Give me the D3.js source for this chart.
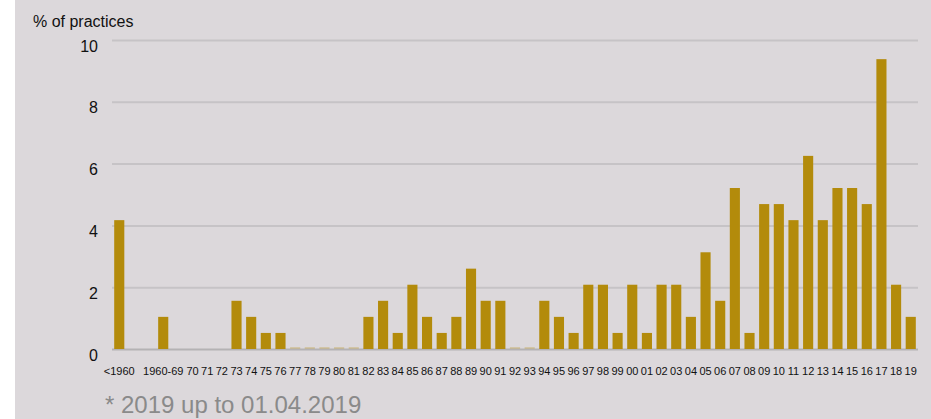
<!DOCTYPE html>
<html>
<head>
<meta charset="utf-8">
<title>Practices by year</title>
<script src="https://d3js.org/d3.v7.min.js"></script>
<style>
  body { margin: 0; background: #fff; }
  text { font-family: "Liberation Sans", Arial, sans-serif; }
</style>
</head>
<body>
<svg width="931" height="419" id="mainsvg"></svg>
<script>
// year slots ("" = empty slot on the axis)
const categories = ['<1960', '', '', '1960-69', '', '70', '71', '72', '73', '74', '75', '76', '77', '78', '79',
  '80', '81', '82', '83', '84', '85', '86', '87', '88', '89', '90', '91', '92', '93', '94', '95', '96', '97',
  '98', '99', '00', '01', '02', '03', '04', '05', '06', '07', '08', '09', '10', '11', '12', '13', '14', '15',
  '16', '17', '18', '19'];
// % of practices (null = no bar)
const values = [4.17, null, null, 1.04, null, null, null, null, 1.56, 1.04, 0.52, 0.52, 0, 0, 0,
  0, 0, 1.04, 1.56, 0.52, 2.08, 1.04, 0.52, 1.04, 2.60, 1.56, 1.56, 0, 0, 1.56, 1.04, 0.52, 2.08,
  2.08, 0.52, 2.08, 0.52, 2.08, 2.08, 1.04, 3.13, 1.56, 5.21, 0.52, 4.69, 4.69, 4.17, 6.25, 4.17, 5.21, 5.21,
  4.69, 9.38, 2.08, 1.04];
const yTicks = [0, 2, 4, 6, 8, 10];

const svg = d3.select('#mainsvg');
const width = +svg.attr('width');
const height = +svg.attr('height');

svg.append('rect').attr('x', 15).attr('y', 0)
  .attr('width', width - 15).attr('height', height)
  .attr('fill', '#dcd8db');

const xScale = d3.scaleBand()
  .domain(d3.range(categories.length))
  .range([112, 918])
  .paddingInner(0.31)
  .paddingOuter(0.15);

const yScale = d3.scaleLinear()
  .domain([0, 10])
  .range([349, 40]);

// gridlines + y labels
const yAxis = d3.axisLeft(yScale).tickValues(yTicks).tickSize(-(918 - 112)).tickSizeOuter(0);
const gy = svg.append('g').attr('transform', 'translate(112,0)').call(yAxis);
gy.select('.domain').remove();
gy.selectAll('.tick line')
  .attr('stroke', d => d === 0 ? '#b4b2b4' : '#c6c3c6')
  .attr('stroke-width', 2);
gy.selectAll('.tick text')
  .attr('x', -14)
  .attr('dy', 11)
  .attr('font-size', '16px')
  .attr('fill', '#111')
  .style('font-family', '"Liberation Sans", Arial, sans-serif');

// x labels
const xAxis = d3.axisBottom(xScale).tickFormat(i => categories[i]).tickSize(0);
const gx = svg.append('g').attr('transform', 'translate(0,349)').call(xAxis);
gx.select('.domain').remove();
gx.selectAll('.tick text')
  .attr('y', 26)
  .attr('dy', 0)
  .attr('font-size', '11px')
  .attr('fill', '#111')
  .style('font-family', '"Liberation Sans", Arial, sans-serif');

// bars
const data = values.map((v, i) => ({i: i, v: v})).filter(d => d.v !== null);
svg.append('g').selectAll('rect')
  .data(data)
  .join('rect')
  .attr('x', d => xScale(d.i))
  .attr('width', xScale.bandwidth())
  .attr('y', d => d.v > 0 ? yScale(d.v) : yScale(0) - 2)
  .attr('height', d => d.v > 0 ? yScale(0) - yScale(d.v) : 2)
  .attr('fill', '#b38b0b')
  .attr('opacity', d => d.v > 0 ? 1 : 0.25);

svg.append('text').text('% of practices')
  .attr('x', 33).attr('y', 27)
  .attr('font-size', '16px').attr('fill', '#111');

svg.append('text').text('* 2019 up to 01.04.2019')
  .attr('x', 105).attr('y', 413)
  .attr('font-size', '24px').attr('fill', '#8a8a8a');
</script>
</body>
</html>
